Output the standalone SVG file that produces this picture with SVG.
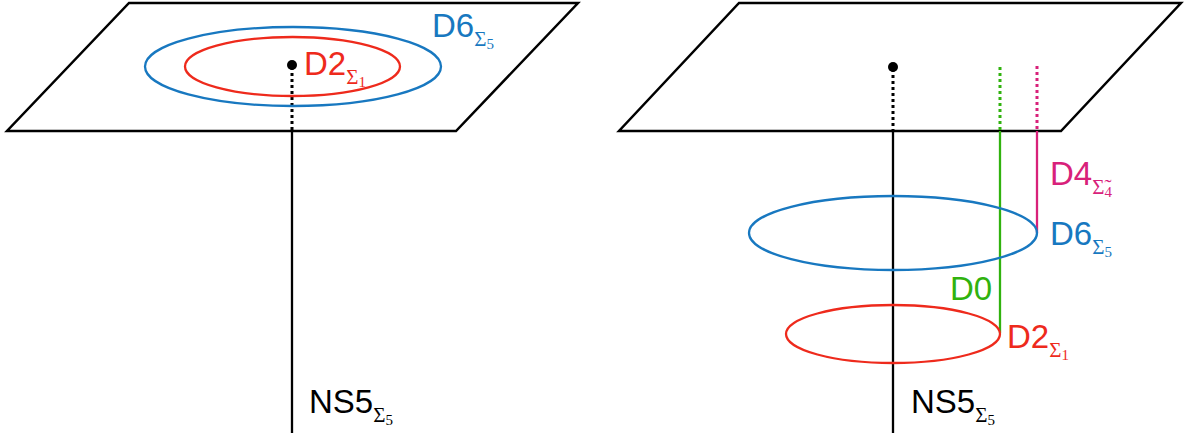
<svg xmlns="http://www.w3.org/2000/svg" width="1185" height="433" viewBox="0 0 1185 433">
<style>
.plane{fill:none;stroke:#000;stroke-width:2.5;stroke-linejoin:miter}
.ln{fill:none;stroke-width:2.3}
.dot{stroke-width:3;stroke-dasharray:3 3}
.lbl{font-family:"Liberation Sans",Arial,sans-serif;font-size:33px}
.sub{font-family:"Liberation Serif","Times New Roman",serif;font-size:21px}
.ssub{font-family:"Liberation Serif","Times New Roman",serif;font-size:15px}
.blue{stroke:#1878c0}.red{stroke:#ee2a1c}.green{stroke:#30b20e}.mag{stroke:#d8217a}.blk{stroke:#000}
.tblue{fill:#1878c0}.tred{fill:#ee2a1c}.tgreen{fill:#30b20e}.tmag{fill:#d8217a}.tblk{fill:#000}
</style>
<rect width="1185" height="433" fill="#fff"/>
<g id="left-plane">
<polygon class="plane" points="129,3 578,3 456,131 7,131"/>
</g>
<g id="right-plane">
<polygon class="plane" points="739,3 1181,3 1061,131 619,131"/>
</g>
<g id="connectors">
<line class="ln blk dot" x1="292" y1="67" x2="292" y2="130"/>
<line class="ln blk" x1="292" y1="132" x2="292" y2="433"/>
<line class="ln blk dot" x1="893" y1="69" x2="893" y2="130"/>
<line class="ln blk" x1="893" y1="132" x2="893" y2="433"/>
<line class="ln green dot" x1="1000" y1="67" x2="1000" y2="130"/>
<line class="ln green" x1="1000" y1="131" x2="1000" y2="333"/>
<line class="ln mag dot" x1="1037" y1="66" x2="1037" y2="130"/>
<line class="ln mag" x1="1037" y1="131" x2="1037" y2="233"/>
</g>
<g id="left-D6">
<ellipse class="ln blue" cx="293" cy="66.5" rx="148" ry="39.5"/>
<text class="lbl tblue" x="432" y="37">D6<tspan class="sub" dy="9">Σ</tspan><tspan class="ssub" dy="3">5</tspan></text>
</g>
<g id="left-D2">
<ellipse class="ln red" cx="292.5" cy="66.5" rx="107.5" ry="29.5"/>
<text class="lbl tred" x="304" y="75">D2<tspan class="sub" dy="9">Σ</tspan><tspan class="ssub" dy="3">1</tspan></text>
</g>
<g id="left-point">
<circle cx="292" cy="65" r="5" fill="#000"/>
</g>
<g id="left-NS5">
<text class="lbl tblk" x="309" y="413">NS5<tspan class="sub" dy="9">Σ</tspan><tspan class="ssub" dy="3">5</tspan></text>
</g>
<g id="right-point">
<circle cx="893" cy="67" r="5" fill="#000"/>
</g>
<g id="right-D6">
<ellipse class="ln blue" cx="893" cy="233" rx="144" ry="37"/>
<text class="lbl tblue" x="1050" y="245">D6<tspan class="sub" dy="9">Σ</tspan><tspan class="ssub" dy="3">5</tspan></text>
</g>
<g id="right-D2">
<ellipse class="ln red" cx="893" cy="334" rx="107" ry="29"/>
<text class="lbl tred" x="1007" y="348">D2<tspan class="sub" dy="9">Σ</tspan><tspan class="ssub" dy="3">1</tspan></text>
</g>
<g id="right-D4">
<text class="lbl tmag" x="1050" y="185">D4<tspan class="sub" dy="9">Σ̃</tspan><tspan class="ssub" dy="3">4</tspan></text>
</g>
<g id="right-D0">
<text class="lbl tgreen" x="950" y="300">D0</text>
</g>
<g id="right-NS5">
<text class="lbl tblk" x="911" y="413">NS5<tspan class="sub" dy="9">Σ</tspan><tspan class="ssub" dy="3">5</tspan></text>
</g>
</svg>
